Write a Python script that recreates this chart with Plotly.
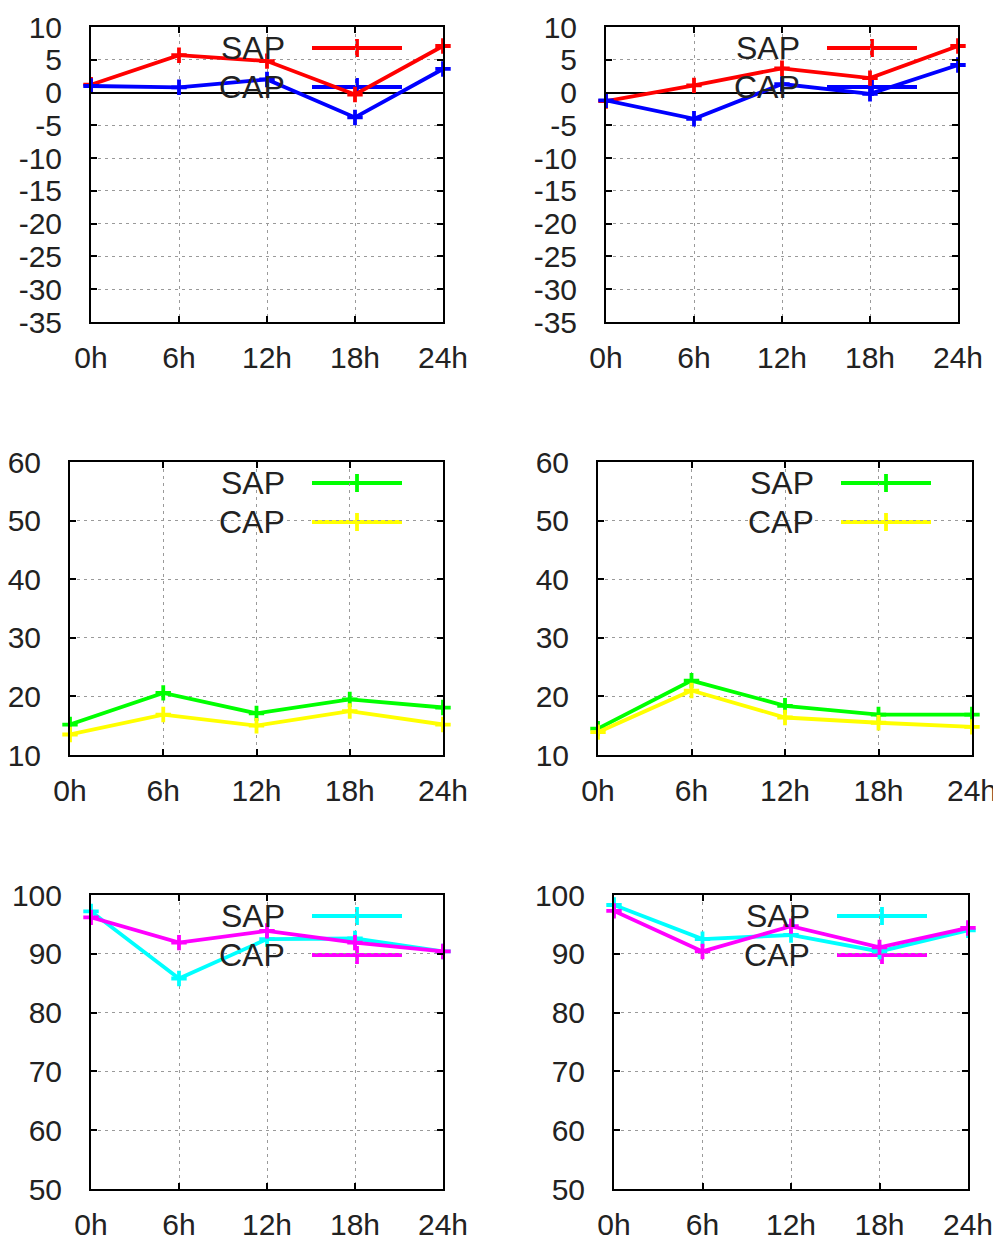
import plotly.graph_objects as go

W, H = 993, 1243

# ---- data ----
hours = [0, 6, 12, 18, 24]
hour_labels = ["0h", "6h", "12h", "18h", "24h"]
series_names = ["SAP", "CAP"]

p1_sap = [1.2, 5.7, 4.8, -0.3, 7.1]
p1_cap = [1.0, 0.8, 2.0, -3.8, 3.6]
p2_sap = [-1.3, 1.1, 3.7, 2.2, 7.1]
p2_cap = [-1.2, -4.0, 1.3, -0.2, 4.2]
p3_sap = [15.2, 20.6, 17.1, 19.5, 18.1]
p3_cap = [13.5, 16.9, 15.0, 17.5, 15.2]
p4_sap = [14.5, 22.7, 18.4, 16.9, 16.9]
p4_cap = [13.9, 21.0, 16.4, 15.5, 14.8]
p5_sap = [97.2, 85.8, 92.5, 92.6, 90.4]
p5_cap = [96.2, 91.9, 93.9, 91.9, 90.4]
p6_sap = [98.3, 92.5, 93.2, 90.4, 94.0]
p6_cap = [97.3, 90.4, 94.7, 91.1, 94.4]

yticks_top = [-35, -30, -25, -20, -15, -10, -5, 0, 5, 10]
yticks_mid = [10, 20, 30, 40, 50, 60]
yticks_bot = [50, 60, 70, 80, 90, 100]

# ---- layout/style ----
FONT = "Liberation Sans, Arial, sans-serif"
TXT = "#222222"
FS = 30
FS_KEY = 32

panels = [
    dict(frame=(91, 27, 443, 322), yr=[-35, 10], yt=yticks_top, data=[p1_sap, p1_cap], colors=["#ff0000", "#0000ff"], zero=True),
    dict(frame=(606, 27, 958, 322), yr=[-35, 10], yt=yticks_top, data=[p2_sap, p2_cap], colors=["#ff0000", "#0000ff"], zero=True),
    dict(frame=(70, 462, 443, 755), yr=[10, 60], yt=yticks_mid, data=[p3_sap, p3_cap], colors=["#00ff00", "#ffff00"], zero=False),
    dict(frame=(598, 462, 972, 755), yr=[10, 60], yt=yticks_mid, data=[p4_sap, p4_cap], colors=["#00ff00", "#ffff00"], zero=False),
    dict(frame=(91, 895, 443, 1189), yr=[50, 100], yt=yticks_bot, data=[p5_sap, p5_cap], colors=["#00ffff", "#ff00ff"], zero=False),
    dict(frame=(614, 895, 968, 1189), yr=[50, 100], yt=yticks_bot, data=[p6_sap, p6_cap], colors=["#00ffff", "#ff00ff"], zero=False),
]

def px(x):
    return x / W

def py(y):
    return 1 - y / H

fig = go.Figure()
shapes = []
annotations = []

for i, p in enumerate(panels, start=1):
    l, t, r, b = p["frame"]
    xa = "xaxis" if i == 1 else f"xaxis{i}"
    ya = "yaxis" if i == 1 else f"yaxis{i}"
    xref = "x" if i == 1 else f"x{i}"
    yref = "y" if i == 1 else f"y{i}"
    common = dict(
        showline=True, linecolor="black", linewidth=2, mirror="allticks",
        ticks="inside", ticklen=6, tickwidth=1.5, tickcolor="black",
        showgrid=True, gridcolor="#9a9a9a", gridwidth=1.2, griddash="3px,4px",
        tickfont=dict(family=FONT, size=FS, color=TXT),
        fixedrange=True, automargin=False, ticklabeloverflow="allow",
    )
    fig.update_layout({
        xa: dict(domain=[px(l), px(r)], anchor=yref, range=[0, 24],
                 tickmode="array", tickvals=hours, ticktext=hour_labels,
                 zeroline=False, ticklabelstandoff=8, **common),
        ya: dict(domain=[py(b), py(t)], anchor=xref, range=p["yr"],
                 tickmode="array", tickvals=p["yt"],
                 ticktext=[str(v) for v in p["yt"]],
                 zeroline=p["zero"], zerolinecolor="black", zerolinewidth=1.5,
                 ticklabelstandoff=21, **common),
    })

    for name, vals, col in zip(series_names, p["data"], p["colors"]):
        fig.add_trace(go.Scatter(
            x=hours, y=vals, name=name, mode="lines+markers",
            line=dict(color=col, width=3.8),
            marker=dict(symbol="cross-thin", size=11, color=col,
                        line=dict(color=col, width=3.8)),
            xaxis=xref, yaxis=yref, showlegend=False, cliponaxis=False,
        ))

    # key box (opaque, no border) covering the grid
    shapes.append(dict(type="rect", xref="paper", yref="paper", layer="between",
                       x0=px(r - 230), x1=px(r - 23), y0=py(t + 79), y1=py(t + 1),
                       fillcolor="white", line=dict(width=0)))
    for k, (name, col) in enumerate(zip(series_names, p["colors"])):
        yy = t + 21 + 39 * k
        shapes.append(dict(type="line", xref="paper", yref="paper", layer="between",
                           x0=px(r - 131), x1=px(r - 41), y0=py(yy), y1=py(yy),
                           line=dict(color=col, width=3.8)))
        shapes.append(dict(type="line", xref="paper", yref="paper", layer="between",
                           x0=px(r - 86), x1=px(r - 86), y0=py(yy - 9), y1=py(yy + 9),
                           line=dict(color=col, width=3.8)))
        annotations.append(dict(text=name, xref="paper", yref="paper",
                                x=px(r - 156), y=py(yy), xanchor="right", yanchor="middle",
                                showarrow=False, font=dict(family=FONT, size=FS_KEY, color=TXT)))

fig.update_layout(
    width=W, height=H, margin=dict(l=0, r=0, t=0, b=0),
    paper_bgcolor="white", plot_bgcolor="white",
    showlegend=False, shapes=shapes, annotations=annotations,
)

fig.write_html("out.html", config={"displayModeBar": False},
               post_script="document.body.style.margin='0';document.body.style.overflow='hidden';")
